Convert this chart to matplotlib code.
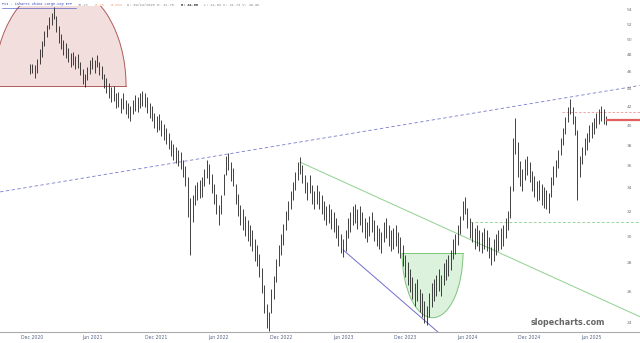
import numpy as np
import matplotlib
matplotlib.use("Agg")
import matplotlib.pyplot as plt
from matplotlib.patches import Ellipse, Rectangle
from matplotlib.lines import Line2D

# weekly bars (price units)
highs = [46.9, 47.0, 46.8, 47.6, 48.8, 49.8,
         51.2, 52.0, 53.0, 53.6, 54.4, 53.2, 51.8, 50.8, 50.0, 49.6,
         48.9, 48.3, 48.4, 47.9, 48.2, 47.2, 46.3, 45.8, 46.6, 47.4,
         47.8, 47.4, 48.1, 47.2, 46.7, 45.8, 45.3, 44.7, 44.2, 44.3,
         43.5, 43.7, 43.0, 43.6, 42.8, 42.4, 42.1, 42.8, 43.3, 43.1,
         43.5, 43.8, 43.6, 43.1, 42.4, 42.1, 41.4, 41.0, 41.2, 40.6,
         40.2, 39.8, 39.3, 38.6, 38.2, 37.9, 37.6, 37.4, 36.6, 36.0,
         35.0, 33.2, 33.4, 34.3, 34.6, 34.8, 35.0, 35.8, 36.6, 36.2,
         35.3, 34.4, 33.5, 32.6, 33.4, 35.3, 37.0, 37.3, 36.4, 35.9,
         34.4, 33.5, 32.6, 32.2, 31.7, 31.3, 30.9, 30.5, 29.8, 29.4,
         28.7, 27.7, 26.5, 25.2, 24.7, 26.2, 27.1, 28.3, 29.4, 30.2,
         31.0, 32.1, 32.9, 33.8, 34.6, 35.5, 36.4, 36.9, 36.1, 35.2,
         34.6, 35.2, 34.3, 33.8, 34.3, 33.8, 33.4, 32.9, 32.5, 32.7,
         32.2, 32.0, 31.5, 30.9, 30.2, 29.8, 30.5, 31.5, 32.0, 32.5,
         32.7, 32.2, 32.5, 32.0, 31.5, 31.2, 31.7, 32.0, 31.3, 30.9,
         30.7, 30.4, 31.2, 31.5, 30.9, 30.5, 30.7, 30.9, 30.4, 30.0,
         29.4, 28.6, 28.1, 27.6, 27.0, 26.6, 26.9, 26.2, 25.9, 25.4,
         25.1, 25.9, 26.6, 26.9, 27.2, 27.6, 27.2, 28.0, 28.3, 28.6,
         29.0, 29.8, 30.2, 30.9, 31.7, 32.9, 33.3, 32.3, 31.5, 31.2,
         30.7, 30.9, 30.5, 30.4, 30.7, 30.5, 30.0, 29.2, 29.8, 30.2,
         30.5, 30.7, 30.9, 31.5, 32.1, 34.2, 38.8, 40.8, 38.4, 36.5,
         35.8, 36.7, 37.0, 36.4, 35.6, 35.1, 34.7, 34.8, 34.4, 34.1,
         33.9, 33.6, 35.0, 36.0, 36.6, 37.6, 38.8, 39.8, 40.9, 42.0,
         42.9, 42.0, 41.0, 39.6, 37.0, 37.9, 38.8, 39.3, 40.1, 40.4,
         40.8, 41.4, 41.8, 42.1, 41.8, 41.0]
lows = [45.8, 45.9, 45.3, 45.9, 47.0, 47.8,
        49.2, 50.4, 51.4, 52.0, 52.8, 51.0, 49.6, 48.8, 48.0, 47.7,
        47.2, 46.6, 46.8, 46.3, 46.5, 45.6, 44.6, 44.2, 45.0, 45.8,
        46.3, 45.9, 46.6, 45.6, 45.2, 44.1, 43.6, 43.0, 42.5, 42.6,
        41.9, 42.0, 41.3, 41.8, 41.2, 40.8, 40.5, 41.2, 41.6, 41.5,
        41.9, 42.1, 42.0, 41.4, 40.8, 40.5, 39.8, 39.4, 39.6, 39.0,
        38.6, 38.2, 37.7, 37.0, 36.6, 36.3, 36.0, 35.8, 35.0, 34.2,
        31.6, 28.6, 31.2, 32.6, 33.0, 33.2, 33.3, 34.2, 34.9, 34.4,
        33.6, 32.7, 31.8, 30.9, 31.8, 33.4, 35.2, 35.7, 34.7, 34.2,
        32.7, 31.7, 30.9, 30.5, 30.1, 29.7, 29.3, 28.9, 28.2, 27.8,
        27.0, 25.9, 24.6, 23.7, 23.5, 24.6, 25.5, 26.7, 27.8, 28.6,
        29.4, 30.5, 31.3, 32.2, 33.0, 33.9, 34.8, 35.3, 34.5, 33.6,
        33.0, 33.6, 32.7, 32.2, 32.7, 32.2, 31.8, 31.3, 30.9, 31.1,
        30.6, 30.4, 29.9, 29.3, 28.8, 28.5, 28.9, 29.9, 30.4, 30.9,
        31.1, 30.6, 30.9, 30.4, 29.9, 29.6, 30.1, 30.4, 29.7, 29.3,
        29.1, 28.8, 29.6, 29.9, 29.3, 28.9, 29.1, 29.3, 28.8, 28.4,
        27.8, 27.0, 26.5, 26.0, 25.5, 25.1, 25.4, 24.7, 24.4, 24.0,
        23.9, 24.4, 25.0, 25.4, 25.7, 26.1, 25.7, 26.5, 26.8, 27.1,
        27.5, 28.3, 28.7, 29.4, 30.2, 31.3, 31.8, 30.7, 29.9, 29.6,
        29.1, 29.3, 28.9, 28.8, 29.1, 28.9, 28.4, 27.9, 28.2, 28.6,
        28.9, 29.1, 29.3, 29.9, 30.5, 31.5, 33.8, 37.2, 35.0, 34.2,
        33.8, 34.8, 35.2, 34.6, 33.8, 33.3, 32.9, 33.0, 32.6, 32.3,
        32.2, 31.9, 33.3, 34.3, 35.0, 35.9, 37.1, 38.1, 39.2, 40.4,
        41.2, 40.2, 39.1, 33.0, 35.0, 36.2, 37.1, 37.6, 38.4, 38.8,
        39.2, 39.8, 40.2, 40.5, 40.2, 40.1]

price_ticks = list(range(24, 56, 2))
date_labels = ["Dec 2020", "Jun 2021", "Dec 2021", "Jun 2022", "Dec 2022",
               "Jun 2023", "Dec 2023", "Jun 2024", "Dec 2024", "Jun 2025"]
date_label_bars = [1, 26, 53, 79, 105, 131, 157, 183, 209, 235]

# drawn annotations: (bar, price) pairs
blue_dash = ([-12.5, 255], [33.7, 44.4])
green_trend = ([113, 255], [36.4, 24.4])
blue_trend = ([131, 175], [29.0, 22.9])
last_high = ([222.6, 255], 41.5)
last_price = ([241, 255], 40.6)
green_level = ([184, 255], 31.2)
hump = (12.6, 44.4)
bowl = (168.4, 28.8)

fig = plt.figure(figsize=(6.4, 3.43), dpi=100)
ax = fig.add_axes([0, 11 / 343, 1, 326 / 343])
ax.set_yscale("log")
ax.set_xlim(-12.55, 255.2)
ax.set_ylim(23.44, 54.56)

bars = np.arange(len(highs))
ax.vlines(bars, lows, highs, color="#222222", lw=0.6, zorder=3)

# pink hump top-left (upper half of an ellipse, cut by the top of the plot)
fig.canvas.draw()
to_axes = ax.transData + ax.transAxes.inverted()
hx, hy = to_axes.transform(hump)
e = Ellipse((hx, hy), 0.206, 0.62, transform=ax.transAxes,
            facecolor="#f3dede", edgecolor="#b05a5a", lw=0.7, zorder=1)
ax.add_patch(e)
e.set_clip_path(Rectangle((-0.1, hy), 1.2, 1.0 - hy, transform=ax.transAxes))
ax.plot([hx - 0.103, hx + 0.103], [hy, hy], transform=ax.transAxes,
        color="#b05a5a", lw=0.7, zorder=1)

# green bowl (lower half of an ellipse)
bx, by = to_axes.transform(bowl)
g = Ellipse((bx, by), 0.0953, 0.4, transform=ax.transAxes,
            facecolor="#dcf2dc", edgecolor="#7cc47c", lw=0.7, zorder=1)
ax.add_patch(g)
g.set_clip_path(Rectangle((-0.1, by - 1.0), 1.2, 1.0, transform=ax.transAxes))
ax.plot([bx - 0.0477, bx + 0.0477], [by, by], transform=ax.transAxes,
        color="#7cc47c", lw=0.7, zorder=1)

ax.plot(*blue_dash, color="#7a7acc", lw=0.6, ls=(0, (4, 3)), zorder=2)
ax.plot(*green_trend, color="#8fd08f", lw=0.7, zorder=2)
ax.plot(*blue_trend, color="#6f6fd0", lw=0.7, zorder=2)
ax.hlines(last_high[1], *last_high[0], color="#ee9a9a", lw=0.6, ls=(0, (3, 2)), zorder=2)
ax.hlines(green_level[1], *green_level[0], color="#9ad89a", lw=0.7, ls=(0, (3, 2)), zorder=2)
ax.hlines(last_price[1], *last_price[0], color="#e06060", lw=1.6, zorder=4)

# axes styling
for s in ["top", "left", "right"]:
    ax.spines[s].set_visible(False)
ax.spines["bottom"].set_color("#aaaaaa")
ax.spines["bottom"].set_linewidth(0.8)
ax.set_yticks([])
ax.minorticks_off()
ax.set_xticks(date_label_bars, date_labels)
ax.tick_params(axis="x", length=0, labelsize=3.3, pad=2, colors="#556688")
ax.tick_params(axis="y", which="both", left=False, labelleft=False)

for p in price_ticks:
    ax.text(0.983, p, str(p), transform=ax.get_yaxis_transform(),
            ha="center", va="center", fontsize=3.2, color="#777777")

ax.text(0.945, 0.015, "slopecharts.com", transform=ax.transAxes, ha="right",
        va="bottom", fontsize=5.8, color="#666666", weight="bold")

# title line
parts = [("FXI - iShares China Large-Cap ETF", "#3344bb", "normal"),
         (" 36.28", "#999999", "normal"),
         (" -0.10", "#e8a27c", "normal"),
         (" -0.03%", "#e8a27c", "normal"),
         (" D: 09/24/2025 O: 41.78", "#888888", "normal"),
         (" H: 41.86", "#222222", "bold"),
         (" L: 41.62 C: 41.73 V: 49.9K", "#888888", "normal")]
cw = 2.24
pos = 0
for txt, col, wt in parts:
    fig.text((2 + pos * cw) / 640, 1 - 4.5 / 343, txt.strip(), family="Liberation Mono",
             fontsize=2.6, color=col, weight=wt, ha="left", va="center")
    pos += len(txt) + 1
fig.add_artist(Line2D([2 / 640, (2 + 33 * cw) / 640], [1 - 7.5 / 343] * 2,
                      color="#3344bb", lw=0.4))

fig.savefig("out.png", dpi=100)
